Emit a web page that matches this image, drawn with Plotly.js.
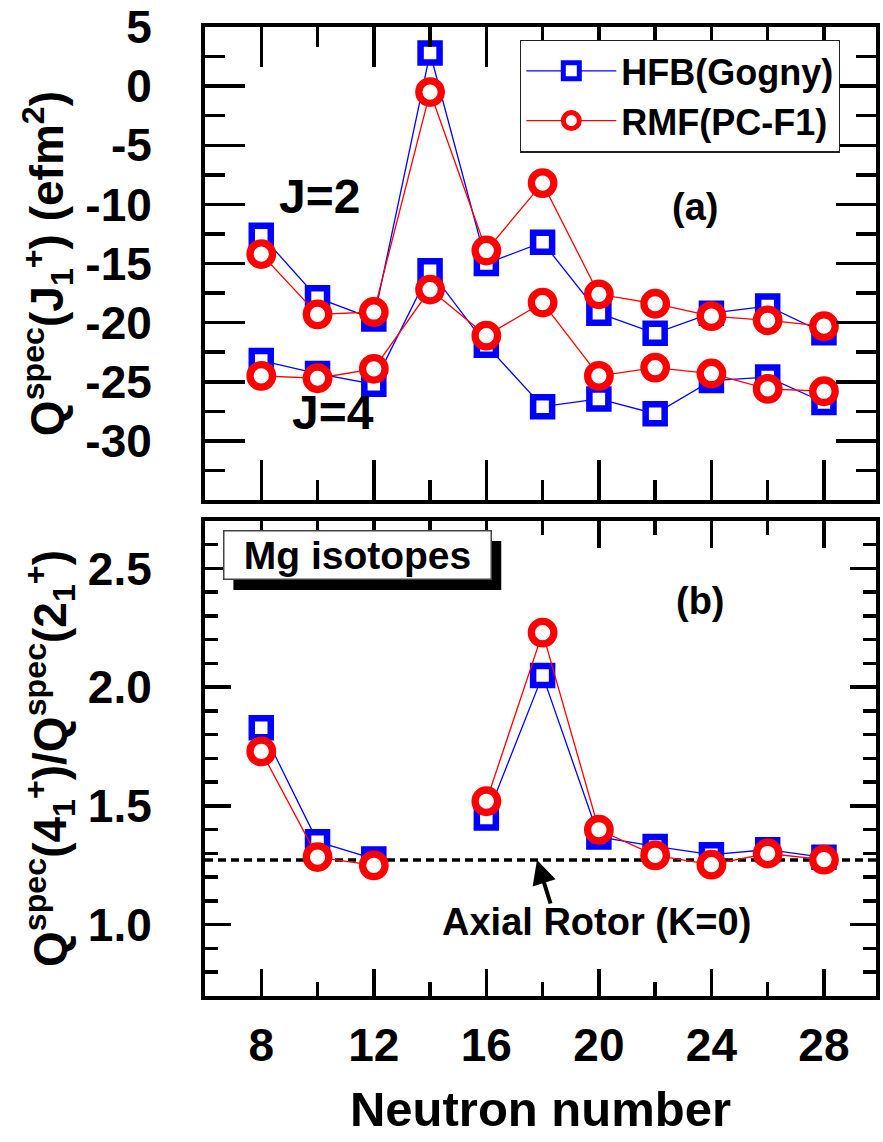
<!DOCTYPE html>
<html>
<head>
<meta charset="utf-8">
<script src="https://cdn.plot.ly/plotly-3.0.1.min.js"></script>
<style>html,body{margin:0;padding:0;background:#fff;}#chart{width:883px;height:1142px;}</style>
</head>
<body>
<div id="chart"></div>
<script>
// ---- data ----
const neutronNumber = [8, 10, 12, 14, 16, 18, 20, 22, 24, 26, 28];
const hfbJ2 = [-12.6, -17.9, -19.7, 2.8, -15.0, -13.2, -19.2, -20.9, -19.2, -18.6, -20.85];
const rmfJ2 = [-14.2, -19.3, -19.1, -0.5, -13.9, -8.2, -17.6, -18.4, -19.45, -19.8, -20.3];
const hfbJ4 = [-23.2, -24.3, -25.2, -15.6, -21.9, -27.1, -26.45, -27.7, -24.9, -24.6, -26.75];
const rmfJ4 = [-24.5, -24.7, -23.9, -17.2, -21.1, -18.3, -24.5, -23.8, -24.3, -25.6, -25.8];
const hfbRatio = [1.83, 1.35, 1.277, null, 1.45, 2.05, 1.37, 1.33, 1.295, 1.316, 1.284];
const rmfRatio = [1.73, 1.285, 1.25, null, 1.52, 2.23, 1.40, 1.292, 1.253, 1.30, 1.274];
const axialRotor = 1.2727;
const xTicks = [8, 12, 16, 20, 24, 28];
const xTickText = ['8', '12', '16', '20', '24', '28'];
const yTicksA = [-30, -25, -20, -15, -10, -5, 0, 5];
const yTickTextA = ['-30', '-25', '-20', '-15', '-10', '-5', '0', '5'];
const yTicksB = [1.0, 1.5, 2.0, 2.5];
const yTickTextB = ['1.0', '1.5', '2.0', '2.5'];

const FONT = 'Liberation Sans, Arial, Helvetica, sans-serif';
const BLUE = '#0000ff', RED = '#ff0000';

function sq(y, xa, ya, show) {
  return {x: neutronNumber, y: y, xaxis: xa, yaxis: ya, mode: 'lines+markers', name: 'HFB(Gogny)',
    legendgroup: 'hfb', showlegend: show, connectgaps: false,
    line: {color: BLUE, width: 1.3},
    marker: {symbol: 'square', size: 19, color: 'white', line: {color: BLUE, width: 6.5}}};
}
function circ(y, xa, ya, show) {
  return {x: neutronNumber, y: y, xaxis: xa, yaxis: ya, mode: 'lines+markers', name: 'RMF(PC-F1)',
    legendgroup: 'rmf', showlegend: show, connectgaps: false,
    line: {color: RED, width: 1.3},
    marker: {symbol: 'circle', size: 22.5, color: 'white', line: {color: RED, width: 7.3}}};
}

const data = [
  sq(hfbJ2, 'x', 'y', true),
  sq(hfbJ4, 'x', 'y', false),
  circ(rmfJ2, 'x', 'y', true),
  circ(rmfJ4, 'x', 'y', false),
  sq(hfbRatio, 'x2', 'y2', false),
  circ(rmfRatio, 'x2', 'y2', false)
];

const tickFont = {family: FONT, size: 46, color: 'black', weight: 'bold'};
const xCommon = {
  range: [6, 29.85], tickmode: 'array', tickvals: xTicks, ticktext: xTickText,
  ticks: 'inside', tickwidth: 3.5, tickcolor: 'black',
  showline: true, linewidth: 4, linecolor: 'black', mirror: 'allticks',
  showgrid: false, zeroline: false, tickfont: tickFont
};

const layout = {
  width: 883, height: 1142,
  margin: {l: 205, r: 7, t: 27, b: 146},
  paper_bgcolor: 'white', plot_bgcolor: 'white',
  font: {family: FONT, color: 'black', weight: 'bold'},
  showlegend: true,
  legend: {x: 0.4696, y: 0.9869, xanchor: 'left', yanchor: 'top',
    bgcolor: 'white', bordercolor: '#222', borderwidth: 1.2,
    tracegroupgap: 0, itemwidth: 90,
    font: {family: FONT, size: 36, color: 'black', weight: 'bold'}},
  xaxis: Object.assign({}, xCommon, {anchor: 'y', showticklabels: false, ticklen: 40,
    minor: {tickmode: 'linear', tick0: 0, dtick: 2, ticks: 'inside', ticklen: 20, tickwidth: 3.5, tickcolor: 'black'}}),
  xaxis2: Object.assign({}, xCommon, {anchor: 'y2', matches: 'x', ticklen: 27, ticklabelstandoff: 6,
    minor: {tickmode: 'linear', tick0: 0, dtick: 2, ticks: 'inside', ticklen: 14, tickwidth: 3.5, tickcolor: 'black'},
    title: {text: 'Neutron number', standoff: 22, font: {family: FONT, size: 49, color: 'black', weight: 'bold'}}}),
  yaxis: {domain: [0.5118, 1], anchor: 'x', range: [-35, 5], tickmode: 'array', tickvals: yTicksA, ticktext: yTickTextA,
    ticks: 'inside', ticklen: 40, tickwidth: 3.5, tickcolor: 'black', ticklabelstandoff: 40,
    minor: {tickmode: 'linear', tick0: 0, dtick: 2.5, ticks: 'inside', ticklen: 20, tickwidth: 3.5, tickcolor: 'black'},
    showline: true, linewidth: 4, linecolor: 'black', mirror: 'allticks', showgrid: false, zeroline: false,
    tickfont: tickFont,
    title: {text: 'Q<sup>spec</sup>(J<sub>1</sub><sup>+</sup>) (efm<sup>2</sup>)', standoff: 8,
      font: {family: FONT, size: 46, color: 'black', weight: 'bold'}}},
  yaxis2: {domain: [0, 0.4902], anchor: 'x2', range: [0.7, 2.7], tickmode: 'array', tickvals: yTicksB, ticktext: yTickTextB,
    ticks: 'inside', ticklen: 26, tickwidth: 3.5, tickcolor: 'black', ticklabelstandoff: 40,
    minor: {tickmode: 'linear', tick0: 0, dtick: 0.1, ticks: 'inside', ticklen: 13, tickwidth: 3.5, tickcolor: 'black'},
    showline: true, linewidth: 4, linecolor: 'black', mirror: 'allticks', showgrid: false, zeroline: false,
    tickfont: tickFont,
    title: {text: 'Q<sup>spec</sup>(4<sub>1</sub><sup>+</sup>)/Q<sup>spec</sup>(2<sub>1</sub><sup>+</sup>)', standoff: 8,
      font: {family: FONT, size: 46, color: 'black', weight: 'bold'}}},
  shapes: [
    {type: 'line', xref: 'x2 domain', yref: 'y2', x0: 0, x1: 1, y0: axialRotor, y1: axialRotor, layer: 'below',
      line: {color: 'black', width: 3.5, dash: '8px,5px'}},
    {type: 'rect', xref: 'x2', yref: 'y2', x0: 7.01, x1: 16.53, y0: 2.409, y1: 2.616, layer: 'above',
      fillcolor: 'black', line: {width: 0}}
  ],
  annotations: [
    {xref: 'x2', yref: 'y2', x: 11.43, y: 2.556, text: 'Mg isotopes', showarrow: false,
      bgcolor: 'white', bordercolor: '#444', borderwidth: 1.5, borderpad: 0, width: 266, height: 47,
      font: {family: FONT, size: 39, color: 'black', weight: 'bold'}},
    {xref: 'x', yref: 'y', x: 23.4, y: -10.2, text: '(a)', showarrow: false,
      font: {family: FONT, size: 38, color: 'black', weight: 'bold'}},
    {xref: 'x2', yref: 'y2', x: 23.6, y: 2.364, text: '(b)', showarrow: false,
      font: {family: FONT, size: 38, color: 'black', weight: 'bold'}},
    {xref: 'x', yref: 'y', x: 10.06, y: -9.35, text: 'J=2', showarrow: false,
      font: {family: FONT, size: 48, color: 'black', weight: 'bold'}},
    {xref: 'x', yref: 'y', x: 10.55, y: -27.6, text: 'J=4', showarrow: false,
      font: {family: FONT, size: 48, color: 'black', weight: 'bold'}},
    {xref: 'x2', yref: 'y2', x: 19.9, y: 1.01, text: 'Axial Rotor (K=0)', showarrow: false,
      font: {family: FONT, size: 38, color: 'black', weight: 'bold'}},
    {xref: 'x2', yref: 'y2', x: 17.8, y: axialRotor, text: '', showarrow: true,
      axref: 'pixel', ayref: 'pixel', ax: 14, ay: 45, arrowhead: 2, arrowsize: 1.2, arrowwidth: 4, arrowcolor: 'black', standoff: 0}
  ]
};

Plotly.newPlot('chart', data, layout, {displayModeBar: false, staticPlot: true});
</script>
</body>
</html>
